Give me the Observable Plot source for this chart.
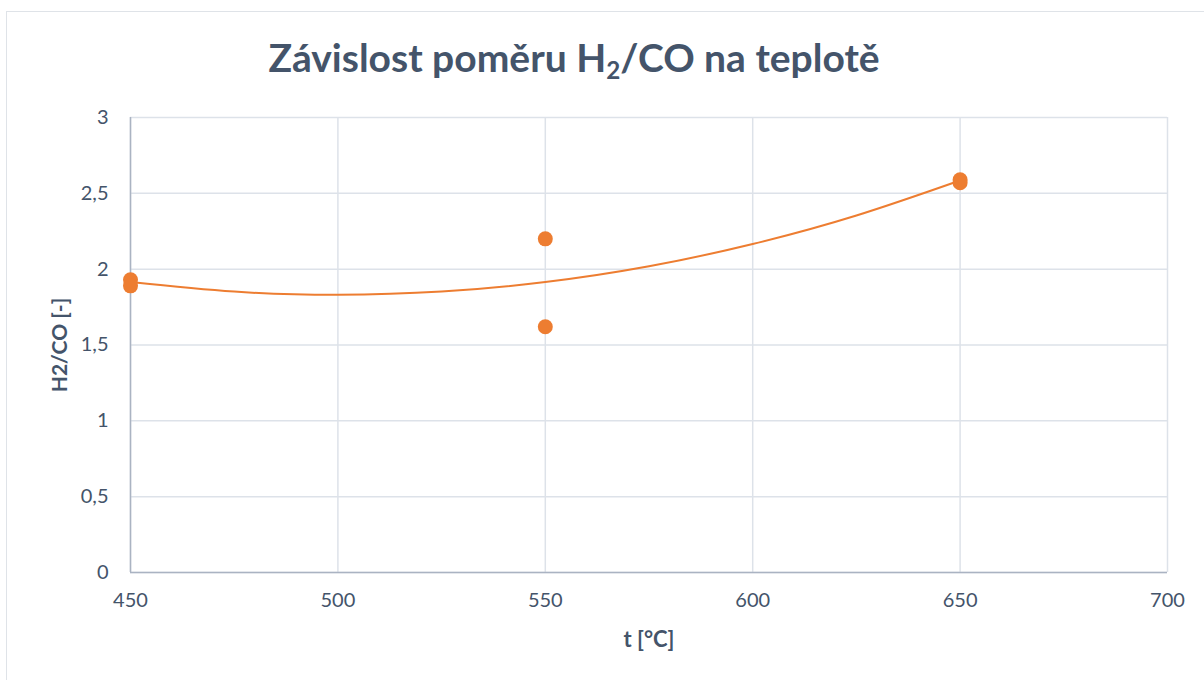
<!DOCTYPE html>
<html>
<head>
<meta charset="utf-8">
<script src="https://cdn.jsdelivr.net/npm/d3@7"></script>
<script src="https://cdn.jsdelivr.net/npm/@observablehq/plot@0.6"></script>
<style>
  html, body { margin: 0; padding: 0; background: #fff; }
  #wrap { position: relative; width: 1204px; height: 680px; overflow: hidden; font-family: Lato, "Open Sans", sans-serif; }
  #frame { position: absolute; left: 6px; top: 11px; width: 1300px; height: 800px; border: 1.5px solid #dfe3e8; box-sizing: border-box; }
  #title { position: absolute; left: 0; width: 1148px; top: 34px; text-align: center; font-size: 39px; font-weight: bold; color: #44546a; }
  #title sub { font-size: 0.62em; vertical-align: -0.28em; line-height: 0; }
  #chart { position: absolute; left: 0; top: 0; }
</style>
</head>
<body>
<div id="wrap">
  <div id="frame"></div>
  <div id="title">Závislost poměru H<sub>2</sub>/CO na teplotě</div>
  <div id="chart"></div>
</div>
<script>
// measured points
const temps = [450, 450, 550, 550, 650, 650];
const ratios = [1.93, 1.89, 2.20, 1.62, 2.59, 2.57];
// polynomial (order 2) trendline
const trendT = [450, 475, 500, 525, 550, 575, 600, 625, 650];
const trendV = [1.915, 1.852, 1.831, 1.852, 1.915, 2.019, 2.166, 2.354, 2.585];
const xTicks = [450, 500, 550, 600, 650, 700];
const yTicks = [0, 0.5, 1, 1.5, 2, 2.5, 3];

const points = temps.map((t, i) => ({t, v: ratios[i]}));
const trend = trendT.map((t, i) => ({t, v: trendV[i]}));
const fmt = d => String(d).replace(".", ",");

const textColor = "#44546a";
const gridColor = "#dde2e9";
const axisColor = "#aab3c2";
const orange = "#ed7d31";

const chart = Plot.plot({
  width: 1204,
  height: 680,
  marginLeft: 130,
  marginRight: 37,
  marginTop: 117,
  marginBottom: 108,
  style: { fontFamily: "Lato, 'Open Sans', sans-serif", fontSize: "20px", color: textColor, background: "transparent" },
  x: { domain: [450, 700], ticks: xTicks },
  y: { domain: [0, 3], ticks: yTicks },
  marks: [
    Plot.gridX(xTicks, { stroke: gridColor, strokeOpacity: 1, strokeWidth: 1.5 }),
    Plot.gridY(yTicks, { stroke: gridColor, strokeOpacity: 1, strokeWidth: 1.5 }),
    Plot.ruleX([450], { stroke: axisColor, strokeWidth: 1.5 }),
    Plot.ruleY([0], { stroke: axisColor, strokeWidth: 1.5 }),
    Plot.axisX(xTicks, { tickSize: 0, tickPadding: 20, tickFormat: fmt, fill: textColor, fontSize: 20,
      label: "t [°C]", labelAnchor: "center", labelArrow: "none", labelOffset: 74 }),
    Plot.axisY(yTicks, { tickSize: 0, tickPadding: 22, tickFormat: fmt, fill: textColor, fontSize: 20,
      label: null }),
    Plot.text(["H2/CO [-]"], { frameAnchor: "left", textAnchor: "middle", dx: -70, rotate: -90, fontWeight: "bold", fontSize: 21, fill: textColor }),
    Plot.line(trend, { x: "t", y: "v", stroke: orange, strokeWidth: 2, curve: "natural" }),
    Plot.dot(points, { x: "t", y: "v", r: 7.5, fill: orange, stroke: "none" })
  ]
});
document.getElementById("chart").appendChild(chart);
// style x axis label
chart.querySelectorAll("[aria-label='x-axis label'] text").forEach(t => { t.setAttribute("font-weight", "bold"); t.setAttribute("font-size", "22"); t.setAttribute("fill", textColor); });
</script>
</body>
</html>
